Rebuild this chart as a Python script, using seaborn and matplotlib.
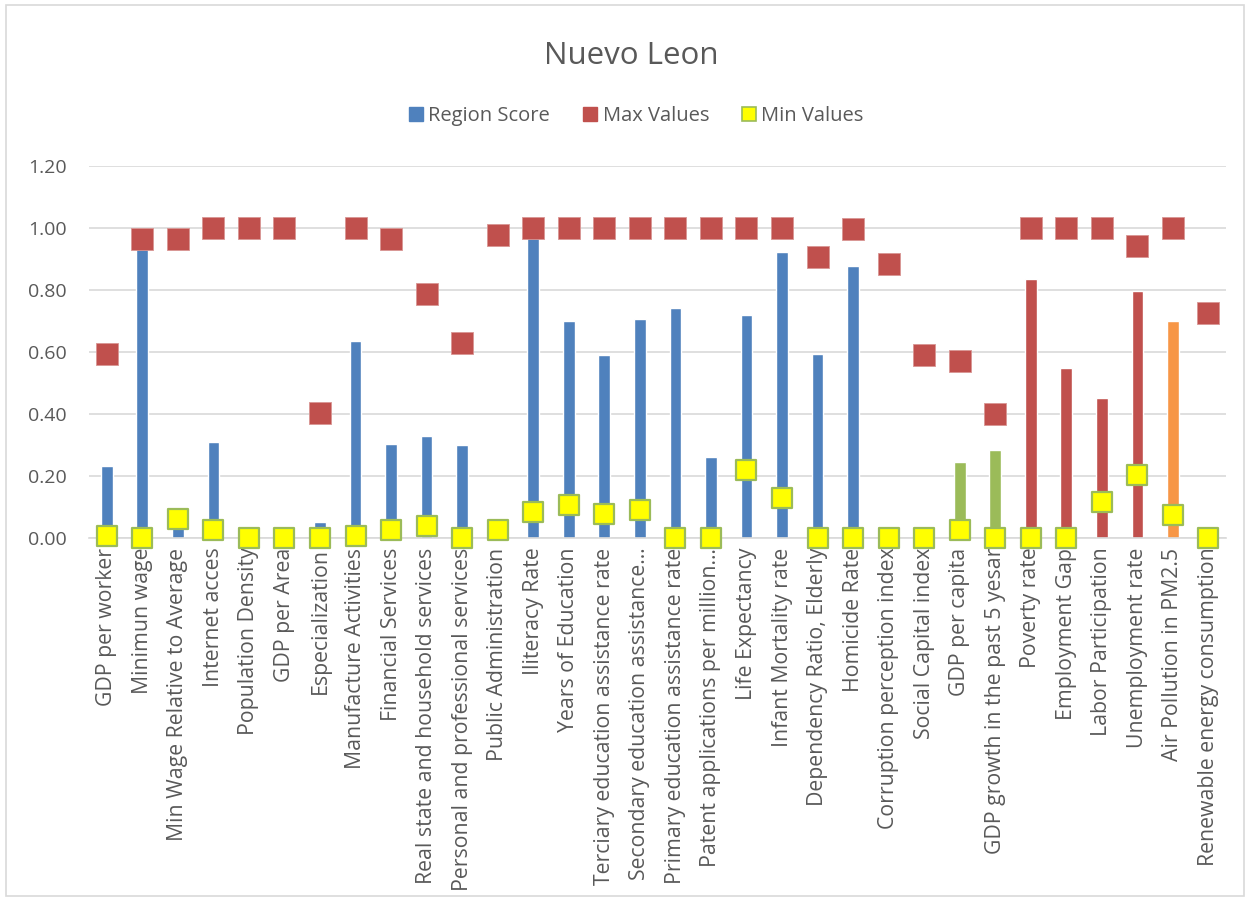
import numpy as np
import matplotlib
matplotlib.use("Agg")
import matplotlib.pyplot as plt
from matplotlib.lines import Line2D
from matplotlib.patches import Rectangle
import seaborn as sns

categories = [
    "GDP per worker", "Minimun wage", "Min Wage Relative to Average", "Internet acces",
    "Population Density", "GDP per Area", "Especialization", "Manufacture Activities",
    "Financial Services", "Real state and household services",
    "Personal and professional services", "Public Administration", "Iliteracy Rate",
    "Years of Education", "Terciary education assistance rate",
    "Secondary education assistance\u2026", "Primary education assistance rate",
    "Patent applications per million\u2026", "Life Expectancy", "Infant Mortality rate",
    "Dependency Ratio, Elderly", "Homicide Rate", "Corruption perception index",
    "Social Capital index", "GDP per capita", "GDP growth in the past 5 yesar",
    "Poverty rate", "Employment Gap", "Labor Participation", "Unemployment rate",
    "Air Pollution in PM2.5", "Renewable energy consumption",
]

region_score = [0.233, 0.95, 0.06, 0.311, 0.0, 0.0, 0.053, 0.635, 0.303, 0.328,
                0.299, 0.0, 0.97, 0.70, 0.590, 0.708, 0.743, 0.260, 0.720, 0.923,
                0.595, 0.877, 0.0, 0.0, 0.245, 0.284, 0.835, 0.548, 0.452, 0.797,
                0.70, 0.0]

max_values = [0.593, 0.965, 0.965, 1.0, 1.0, 1.0, 0.404, 1.0, 0.965, 0.788,
              0.629, 0.977, 1.0, 1.0, 1.0, 1.0, 1.0, 1.0, 1.0, 1.0,
              0.906, 0.996, 0.883, 0.590, 0.572, 0.400, 1.0, 1.0, 1.0, 0.941,
              1.0, 0.725]

min_values = [0.007, 0.0, 0.061, 0.026, 0.0, 0.0, 0.0, 0.007, 0.025, 0.039,
              0.0, 0.025, 0.083, 0.108, 0.076, 0.089, 0.0, 0.0, 0.220, 0.128,
              0.0, 0.0, 0.0, 0.0, 0.026, 0.0, 0.0, 0.0, 0.117, 0.202,
              0.074, 0.0]

# bar colour group per indicator
groups = (["blue"] * 24 + ["green"] * 2 + ["red"] * 4 + ["orange"] + ["blue"])
group_colors = {"blue": "#4F81BD", "green": "#9BBB59", "red": "#C0504D",
                "orange": "#F79646"}
bar_colors = [group_colors[g] for g in groups]

sns.set_theme(style="white")
plt.rcParams["font.family"] = ["Open Sans", "DejaVu Sans"]
text_color = "#595959"

fig = plt.figure(figsize=(12.5, 9), dpi=100)
ax = fig.add_axes([0.0712, 0.4022, 0.9098, 0.4134])

x = np.arange(len(categories))
sns.barplot(x=x, y=region_score, hue=x, palette=bar_colors, width=0.33,
            legend=False, ax=ax, saturation=1, zorder=2)

sns.scatterplot(x=x, y=max_values, marker="s", s=235, color="#C0504D",
                edgecolor="#D99694", linewidth=0.6, ax=ax, zorder=4,
                clip_on=False, legend=False)
sns.scatterplot(x=x, y=min_values, marker="s", s=215, color="#FFFF00",
                edgecolor="#9BBB59", linewidth=1.6, ax=ax, zorder=5,
                clip_on=False, legend=False)

ax.set_xlim(-0.5, len(categories) - 0.5)
ax.set_ylim(0, 1.2)
ax.set_yticks(np.arange(0, 1.21, 0.2))
ax.set_yticklabels([f"{v:.2f}" for v in np.arange(0, 1.21, 0.2)],
                   fontsize=14, color=text_color)
ax.set_xticks(x)
ax.set_xticklabels(categories, rotation=90, fontsize=15.3, color=text_color,
                   ha="center", va="top")
ax.tick_params(axis="x", length=0, pad=7)
ax.tick_params(axis="y", length=0, pad=16)
ax.yaxis.grid(True, color="#D9D9D9", linewidth=1.2, zorder=0)
ax.set_axisbelow(True)
for side in ["top", "right", "left"]:
    ax.spines[side].set_visible(False)
ax.spines["bottom"].set_color("#D9D9D9")
ax.spines["bottom"].set_linewidth(1.2)
ax.set_xlabel("")
ax.set_ylabel("")

fig.text(0.505, 0.938, "Nuevo Leon", ha="center", va="center", fontsize=22.5,
         color=text_color)

handles = [
    Line2D([], [], marker="s", linestyle="none", markersize=10,
           markerfacecolor="#4F81BD", markeredgecolor="#4F81BD"),
    Line2D([], [], marker="s", linestyle="none", markersize=10,
           markerfacecolor="#C0504D", markeredgecolor="#C0504D"),
    Line2D([], [], marker="s", linestyle="none", markersize=10,
           markerfacecolor="#FFFF00", markeredgecolor="#9BBB59",
           markeredgewidth=1.2),
]
fig.legend(handles, ["Region Score", "Max Values", "Min Values"],
           loc="center", bbox_to_anchor=(0.508, 0.871), ncol=3, frameon=False,
           fontsize=14.5, labelcolor=text_color, handletextpad=0.1,
           columnspacing=1.5, handlelength=1.0)

fig.patches.append(Rectangle((0.005, 0.004), 0.99, 0.99, transform=fig.transFigure,
                             fill=False, edgecolor="#D9D9D9", linewidth=1.2))

fig.savefig("out.png", dpi=100, facecolor="white")
